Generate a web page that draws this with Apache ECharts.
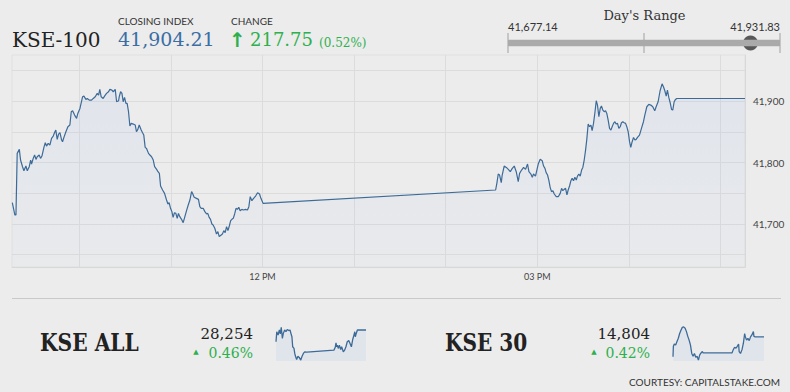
<!DOCTYPE html>
<html><head><meta charset="utf-8">
<script src="https://cdn.jsdelivr.net/npm/echarts@6/dist/echarts.min.js"></script>
<style>html,body{margin:0;padding:0;background:#ececec;overflow:hidden}#c{width:790px;height:392px}</style>
</head><body><div id="c"></div>
<script>
// ---------- data ----------
const closingIndex = 41904.21, change = 217.75, changePct = 0.52;
const dayLow = 41677.14, dayHigh = 41931.83;
const kseAllValue = 28254, kseAllPct = 0.46;
const kse30Value = 14804, kse30Pct = 0.42;

// session window in minutes after midnight
const sessionStart = 556, sessionEnd = 1036;
const xGridTimes = [600, 660, 720, 780, 840, 900, 960, 1020];
const yGridValues = [41650, 41700, 41750, 41800, 41850, 41900, 41950];
const yMin = 41630, yMax = 41975;

const kse100Time = [
556.2,557.9,558.6,559.4,560.8,561.6,562.9,563.8,565.1,566.0,
567.3,568.2,568.8,569.9,570.8,571.7,572.5,573.8,574.7,575.6,
576.9,577.8,578.6,579.7,580.8,581.9,583.0,584.1,584.7,585.6,
586.5,587.4,588.5,589.1,590.0,591.3,592.6,593.9,594.8,595.7,
597.0,598.3,599.1,600.5,602.2,603.1,604.4,605.3,606.6,608.1,
609.2,610.5,611.8,612.7,613.5,614.4,615.7,616.6,617.9,619.2,
620.1,621.4,622.3,623.6,624.5,625.8,626.2,627.1,628.0,628.8,
629.7,630.6,631.4,632.3,633.2,634.1,635.4,636.7,637.5,638.4,
639.3,640.6,641.5,642.3,643.2,644.1,645.4,646.3,647.4,648.5,
649.4,650.7,651.6,652.5,653.3,654.6,655.9,657.2,658.1,658.9,
659.8,660.7,661.5,662.4,663.3,664.2,665.0,665.9,667.0,668.1,
669.2,670.3,671.4,672.5,673.6,674.2,675.3,676.8,678.1,679.0,
679.9,681.2,682.3,683.4,684.2,685.1,686.0,686.9,687.7,688.8,
689.9,690.8,691.7,693.0,693.8,694.7,695.6,696.5,697.4,698.3,
699.2,700.0,700.9,701.8,702.7,703.6,704.5,705.4,706.5,707.6,
708.9,710.2,711.1,712.0,713.1,714.2,715.5,716.8,718.1,719.0,
720.4,
872.7,873.5,874.4,875.3,876.4,877.0,878.3,879.7,881.0,882.3,
883.6,884.9,886.2,887.5,888.4,889.7,891.0,892.3,893.6,894.5,
895.8,896.7,897.5,898.8,899.7,900.6,901.9,903.2,904.1,905.0,
905.8,906.7,907.6,908.4,909.3,910.2,911.1,912.4,913.7,915.0,
915.9,916.7,917.6,918.5,919.4,920.2,921.1,922.0,922.8,923.7,
924.6,925.5,926.3,927.2,928.1,929.0,929.8,930.7,931.6,932.4,
933.3,934.2,935.1,935.9,936.8,937.7,938.6,939.4,940.3,941.2,
942.0,942.9,943.8,944.7,945.5,946.4,947.3,948.2,949.0,949.9,
950.8,951.6,952.5,953.4,954.3,955.1,956.0,956.9,957.8,958.6,
959.5,960.4,961.2,962.1,963.0,963.9,964.7,965.6,966.9,968.2,
969.5,970.4,971.7,973.0,974.3,975.6,976.9,977.8,979.1,980.4,
981.7,982.6,983.5,984.4,985.2,986.1,987.0,987.9,988.7,989.6,
990.5,991.3,1036
];
const kse100Value = [
41734.7,41714.6,41714.6,41814.9,41821.4,41804.1,41793.2,41786.7,41794.3,41786.7,
41793.2,41804.1,41797.6,41806.8,41812.2,41805.1,41809.5,41812.2,41806.8,41810.6,
41824.7,41832.3,41826.8,41831.2,41828.5,41839.3,41843.1,41850.1,41852.8,41837.7,
41846.3,41848.5,41836.6,41833.9,41840.9,41850.1,41858.3,41861.0,41882.7,41884.3,
41877.2,41871.8,41879.9,41888.1,41907.0,41908.1,41902.7,41904.3,41901.6,41901.6,
41904.3,41907.0,41912.5,41909.8,41919.0,41907.0,41904.3,41908.1,41912.5,41915.2,
41919.0,41917.9,41915.2,41919.0,41898.9,41900.5,41907.0,41915.2,41912.5,41898.9,
41906.0,41896.2,41896.2,41882.7,41859.4,41863.7,41862.6,41861.0,41850.1,41853.9,
41861.0,41852.8,41848.5,41844.7,41824.7,41823.0,41814.9,41812.2,41809.5,41804.1,
41793.2,41788.9,41785.1,41782.4,41761.8,41755.3,41749.9,41739.0,41732.5,41734.7,
41725.5,41720.1,41710.8,41718.4,41717.3,41709.2,41717.3,41711.9,41707.6,41702.2,
41711.9,41721.7,41730.9,41739.0,41752.6,41749.9,41743.4,41741.7,41740.1,41728.2,
41725.5,41725.5,41720.1,41716.3,41717.3,41710.8,41707.6,41700.0,41698.4,41693.0,
41683.7,41687.5,41679.5,41682.1,41683.7,41689.2,41685.9,41695.7,41689.2,41696.7,
41705.4,41707.6,41709.2,41716.3,41725.5,41723.8,41727.1,41721.7,41723.8,41722.8,
41723.8,41722.8,41728.2,41744.4,41737.9,41741.7,41745.5,41750.9,41748.8,41741.7,
41733.6,
41755.3,41766.1,41781.3,41779.7,41767.2,41779.7,41794.3,41792.1,41788.9,41785.1,
41790.5,41794.3,41785.1,41768.8,41782.4,41787.8,41792.1,41788.9,41797.6,41785.1,
41781.3,41775.9,41781.3,41778.0,41787.8,41797.6,41805.2,41803.0,41794.3,41790.5,
41783.5,41779.7,41770.5,41759.6,41752.6,41754.2,41748.8,41744.4,41744.4,41749.9,
41758.0,41754.2,41756.4,41758.0,41747.2,41755.3,41761.8,41770.5,41774.3,41770.5,
41775.9,41771.5,41778.0,41781.3,41778.0,41787.8,41792.1,41804.1,41820.3,41837.7,
41862.6,41858.3,41861.0,41851.8,41863.7,41881.0,41900.5,41893.5,41874.5,41888.1,
41891.9,41885.4,41882.7,41884.3,41879.9,41869.1,41855.6,41852.8,41858.3,41863.7,
41866.4,41862.6,41863.7,41855.6,41858.3,41864.8,41866.4,41864.8,41863.7,41858.3,
41850.1,41833.9,41824.7,41833.9,41840.9,41836.6,41837.7,41840.9,41844.7,41855.6,
41866.4,41877.2,41890.8,41894.6,41893.5,41890.8,41884.3,41890.8,41898.9,41916.8,
41928.0,41923.3,41916.8,41908.1,41917.9,41906.0,41897.3,41886.5,41885.4,41898.9,
41902.7,41904.21,41904.21
];

const kseAllTime = [556,560,567,574,579,584,590,595,602,609,616,624,631,638,641,645,652,656,661,666,673,680,688,695,702,709,720,865,872,876,880,883,888,894,901,906,915,922,929,936,944,951,958,965,972,976,979,983,990,1036];
const kseAllSeries = [28212,28248,28236,28254,28240,28264,28224,28242,28254,28248,28256,28252,28254,28236,28230,28194,28188,28170,28158,28148,28160,28156,28146,28160,28170,28176,28175,28182,28192,28208,28194,28200,28188,28200,28184,28194,28176,28182,28194,28212,28216,28206,28194,28220,28236,28248,28230,28240,28254,28254];
const kseAllRange = [28143, 28272];

const kse30Time = [556,558,563,570,577,584,591,598,605,612,620,627,634,641,648,655,662,669,676,683,690,697,704,711,715,867,874,881,888,895,902,905,912,920,927,934,937,944,951,958,965,972,980,983,990,1036];
const kse30Series = [14762,14784,14789,14787,14794,14801,14811,14818,14824,14825,14822,14815,14805,14797,14787,14769,14763,14769,14761,14763,14755,14766,14770,14773,14770,14770,14777,14782,14780,14784,14789,14773,14769,14777,14790,14811,14805,14797,14801,14796,14804,14808,14815,14805,14804,14804];
const kse30Range = [14753, 14829];

// ---------- helpers ----------
const zip = (a, b) => a.map((v, i) => [v, b[i]]);
const fmt = (v, d) => v.toLocaleString('en-US', {minimumFractionDigits: d, maximumFractionDigits: d});
const LINE = '#3d6b99';
const GREEN = '#2db04d';
const SERIF = '"DejaVu Serif", serif';
const SANS = 'Lato, sans-serif';

function txt(x, y, text, font, fill, align, vAlign, extra) {
  return Object.assign({type: 'text', x: x, y: y, silent: true,
    style: {text: text, font: font, fill: fill, textAlign: align || 'left', textVerticalAlign: vAlign || 'middle'}}, extra || {});
}

const chart = echarts.init(document.getElementById('c'), null, {renderer: 'svg'});
chart.setOption({
  animation: false,
  backgroundColor: '#ececec',
  grid: [
    {left: 12, top: 55, width: 733, height: 212, show: true, borderColor: '#e0e0e0', borderWidth: 1, backgroundColor: 'transparent'},
    {left: 508, top: 33, width: 272, height: 20},
    {left: 276, top: 325, width: 90, height: 36},
    {left: 673, top: 325, width: 91, height: 36}
  ],
  xAxis: [
    {gridIndex: 0, type: 'value', min: sessionStart, max: sessionEnd, minInterval: 180, maxInterval: 180,
      axisLine: {show: true, lineStyle: {color: '#d8d8d8'}}, axisTick: {show: false}, splitLine: {show: false},
      axisLabel: {showMinLabel: false, showMaxLabel: false, margin: 5, fontFamily: 'Lato', fontSize: 9, color: '#444',
        formatter: v => { if (v % 180 !== 0) return ''; const h = v / 60; const h12 = h > 12 ? h - 12 : h; return String(h12).padStart(2, '0') + (h >= 12 ? ' PM' : ' AM'); }}},
    {gridIndex: 1, type: 'value', min: dayLow, max: dayHigh, show: false},
    {gridIndex: 2, type: 'value', min: sessionStart, max: sessionEnd, show: false},
    {gridIndex: 3, type: 'value', min: sessionStart, max: sessionEnd, show: false}
  ],
  yAxis: [
    {gridIndex: 0, type: 'value', position: 'right', min: yMin, max: yMax, minInterval: 100, maxInterval: 100,
      axisLine: {show: true, lineStyle: {color: '#d8d8d8'}}, axisTick: {show: false}, splitLine: {show: false},
      axisLabel: {showMinLabel: false, showMaxLabel: false, margin: 8, fontFamily: 'Lato', fontSize: 10, color: '#444',
        formatter: v => (v % 100 === 0 ? fmt(v, 0) : '')}},
    {gridIndex: 1, type: 'value', min: -1, max: 1, show: false},
    {gridIndex: 2, type: 'value', min: kseAllRange[0], max: kseAllRange[1], show: false},
    {gridIndex: 3, type: 'value', min: kse30Range[0], max: kse30Range[1], show: false}
  ],
  series: [
    {type: 'line', xAxisIndex: 0, yAxisIndex: 0, z: 3, data: zip(kse100Time, kse100Value), symbol: 'none',
      lineStyle: {color: LINE, width: 1.2}, silent: true,
      areaStyle: {origin: 'start', color: new echarts.graphic.LinearGradient(0, 0, 0, 1, [
        {offset: 0, color: 'rgba(140,175,235,0.17)'}, {offset: 1, color: 'rgba(140,175,235,0.05)'}])},
      markLine: {z: 1, silent: true, symbol: ['none', 'none'], label: {show: false}, emphasis: {disabled: true},
        lineStyle: {color: '#dcdcdc', width: 1, type: 'solid'},
        data: xGridTimes.map(t => ({xAxis: t})).concat(yGridValues.map(v => ({yAxis: v})))}},
    {type: 'line', xAxisIndex: 1, yAxisIndex: 1, data: [[dayLow, 0], [dayHigh, 0]], symbol: 'none', silent: true,
      lineStyle: {color: '#aaaaaa', width: 6.5}},
    {type: 'scatter', xAxisIndex: 1, yAxisIndex: 1, clip: false, silent: true, symbol: 'rect', symbolSize: [1.2, 20],
      itemStyle: {color: '#9c9c9c'}, data: [[dayLow, 0], [(dayLow + dayHigh) / 2, 0], [dayHigh, 0]]},
    {type: 'scatter', xAxisIndex: 1, yAxisIndex: 1, clip: false, silent: true, symbolSize: 15,
      itemStyle: {color: '#333333'}, data: [[closingIndex, 0]]},
    {type: 'line', xAxisIndex: 2, yAxisIndex: 2, data: zip(kseAllTime, kseAllSeries), symbol: 'none', silent: true,
      lineStyle: {color: LINE, width: 1.3}, areaStyle: {origin: 'start', color: 'rgba(140,175,235,0.18)'}},
    {type: 'line', xAxisIndex: 3, yAxisIndex: 3, data: zip(kse30Time, kse30Series), symbol: 'none', silent: true,
      lineStyle: {color: LINE, width: 1.3}, areaStyle: {origin: 'start', color: 'rgba(140,175,235,0.18)'}}
  ],
  graphic: [
    txt(12, 39.5, 'KSE-100', '20px ' + SERIF, '#222'),
    txt(118, 20.5, 'CLOSING INDEX', '10px ' + SANS, '#333'),
    txt(118, 39, fmt(closingIndex, 2), '19px ' + SERIF, '#3a6ea5'),
    txt(231, 20.5, 'CHANGE', '10px ' + SANS, '#333'),
    txt(229, 39.5, '\u2191', 'bold 20px "DejaVu Sans", sans-serif', GREEN),
    txt(250, 39, fmt(change, 2), '18px ' + SERIF, GREEN),
    txt(319, 43, '(' + fmt(changePct, 2) + '%)', '12px ' + SERIF, GREEN),
    txt(644.5, 15.5, "Day's Range", '13px ' + SERIF, '#333', 'center'),
    txt(508, 26.5, fmt(dayLow, 2), '11px ' + SANS, '#333'),
    txt(780, 26.5, fmt(dayHigh, 2), '11px ' + SANS, '#333', 'right'),
    {type: 'line', silent: true, shape: {x1: 12, y1: 298.5, x2: 781, y2: 298.5}, style: {stroke: '#c9c9c9', lineWidth: 1}},
    txt(40, 342, 'KSE ALL', 'bold 25px ' + SERIF, '#222', 'left', 'middle', {scaleX: 0.81}),
    txt(253, 333.5, fmt(kseAllValue, 0), '15px ' + SERIF, '#222', 'right'),
    txt(196, 352, '\u25B2', '7px "DejaVu Sans", sans-serif', GREEN, 'center'),
    txt(253, 352.5, fmt(kseAllPct, 2) + '%', '14px ' + SERIF, GREEN, 'right'),
    txt(445, 342, 'KSE 30', 'bold 25px ' + SERIF, '#222', 'left', 'middle', {scaleX: 0.805}),
    txt(650, 333.5, fmt(kse30Value, 0), '15px ' + SERIF, '#222', 'right'),
    txt(594, 352, '\u25B2', '7px "DejaVu Sans", sans-serif', GREEN, 'center'),
    txt(650, 352.5, fmt(kse30Pct, 2) + '%', '14px ' + SERIF, GREEN, 'right'),
    txt(780, 381.5, 'COURTESY: CAPITALSTAKE.COM', '10px ' + SANS, '#333', 'right')
  ]
});
</script></body></html>
